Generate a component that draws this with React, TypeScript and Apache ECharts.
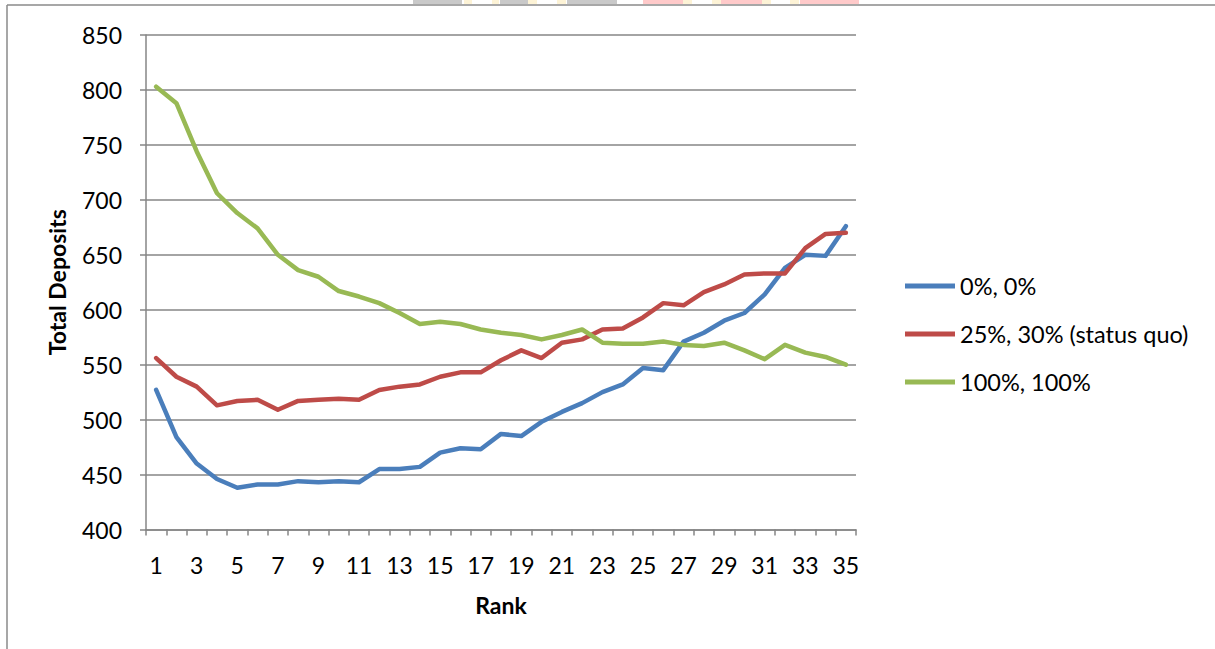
import React, { useEffect, useRef } from "react";
import * as echarts from "echarts";

// Rank 1..35 on the category axis
const ranks: string[] = Array.from({ length: 35 }, (_, i) => String(i + 1));

const seriesNames = ["0%, 0%", "25%, 30% (status quo)", "100%, 100%"];

const zeroZero: number[] = [
  527, 484, 460, 446, 438, 441, 441, 444, 443, 444, 443, 455, 455, 457, 470,
  474, 473, 487, 485, 498, 507, 515, 525, 532, 547, 545, 571, 579, 590, 597,
  614, 638, 650, 649, 676,
];

const statusQuo: number[] = [
  556, 539, 530, 513, 517, 518, 509, 517, 518, 519, 518, 527, 530, 532, 539,
  543, 543, 554, 563, 556, 570, 573, 582, 583, 593, 606, 604, 616, 623, 632,
  633, 633, 656, 669, 670,
];

const fullFull: number[] = [
  803, 788, 744, 706, 688, 674, 650, 636, 630, 617, 612, 606, 597, 587, 589,
  587, 582, 579, 577, 573, 577, 582, 570, 569, 569, 571, 568, 567, 570, 563,
  555, 568, 561, 557, 550,
];

const colors = ["#4a7ebb", "#be4b48", "#98b954"];

// Strip of coloured blocks along the top edge of the page
const topStrip: [number, number, string][] = [
  [413, 462, "#c9c9c9"],
  [464, 472, "#fdf3d6"],
  [492, 499, "#fdf3d6"],
  [500, 528, "#c9c9c9"],
  [528, 537, "#fdf3d6"],
  [557, 566, "#fdf3d6"],
  [567, 617, "#c9c9c9"],
  [643, 683, "#ffcaca"],
  [683, 692, "#fdf3d6"],
  [712, 721, "#fdf3d6"],
  [721, 762, "#ffcaca"],
  [762, 771, "#fdf3d6"],
  [790, 799, "#fdf3d6"],
  [800, 859, "#ffcaca"],
];

const FONT = "Lato, 'Open Sans', sans-serif";

export default function App() {
  const ref = useRef<HTMLDivElement>(null);

  useEffect(() => {
    if (!ref.current) return;
    const chart = echarts.init(ref.current, undefined, { renderer: "svg" });

    const data = [zeroZero, statusQuo, fullFull];

    chart.setOption({
      animation: false,
      backgroundColor: "#ffffff",
      textStyle: { fontFamily: FONT },
      grid: { left: 146, right: 359, top: 35, bottom: 119.5, containLabel: false },
      legend: {
        orient: "vertical",
        left: 900,
        top: 269,
        icon: "rect",
        itemWidth: 50,
        itemHeight: 5,
        itemGap: 24,
        textStyle: { fontFamily: FONT, fontSize: 23.5, color: "#000", lineHeight: 24, padding: [0, 0, 0, 0] },
        data: seriesNames,
      },
      xAxis: {
        type: "category",
        data: ranks,
        boundaryGap: true,
        name: "Rank",
        nameLocation: "middle",
        nameGap: 64,
        nameTextStyle: { fontFamily: FONT, fontSize: 23, fontWeight: "bold", color: "#000" },
        axisLine: { lineStyle: { color: "#868686", width: 1.5 } },
        axisTick: { show: true, interval: 0, length: 6, lineStyle: { color: "#868686", width: 1.5 } },
        axisLabel: { interval: 1, margin: 24, fontFamily: FONT, fontSize: 23, color: "#000" },
        splitLine: { show: false },
      },
      yAxis: {
        type: "value",
        min: 400,
        max: 850,
        interval: 50,
        name: "Total Deposits",
        nameLocation: "middle",
        nameGap: 78,
        nameRotate: 90,
        nameTextStyle: { fontFamily: FONT, fontSize: 23, fontWeight: "bold", color: "#000" },
        axisLine: { show: true, lineStyle: { color: "#868686", width: 1.5 } },
        axisTick: { show: true, length: 6, lineStyle: { color: "#868686", width: 1.5 } },
        axisLabel: { margin: 24, fontFamily: FONT, fontSize: 23, color: "#000" },
        splitLine: { show: true, lineStyle: { color: "#868686", width: 1.5 } },
      },
      series: seriesNames.map((name, i) => ({
        name,
        type: "line",
        data: data[i],
        showSymbol: false,
        symbol: "none",
        smooth: false,
        color: colors[i],
        lineStyle: { color: colors[i], width: 4.5, cap: "round", join: "round" },
        z: 3 + i,
      })),
      graphic: [
        {
          type: "line",
          shape: { x1: 7, y1: 5, x2: 1215, y2: 5 },
          style: { stroke: "#8a8a8a", lineWidth: 1.5 },
          silent: true,
        },
        {
          type: "line",
          shape: { x1: 7, y1: 5, x2: 7, y2: 649 },
          style: { stroke: "#8a8a8a", lineWidth: 1.5 },
          silent: true,
        },
        ...topStrip.map(([x0, x1, c]) => ({
          type: "rect",
          shape: { x: x0, y: 0, width: x1 - x0, height: 4 },
          style: { fill: c },
          silent: true,
        })),
      ],
    });

    return () => chart.dispose();
  }, []);

  return (
    <div
      ref={ref}
      style={{ position: "fixed", left: 0, top: 0, width: 1215, height: 649, background: "#fff" }}
    />
  );
}
